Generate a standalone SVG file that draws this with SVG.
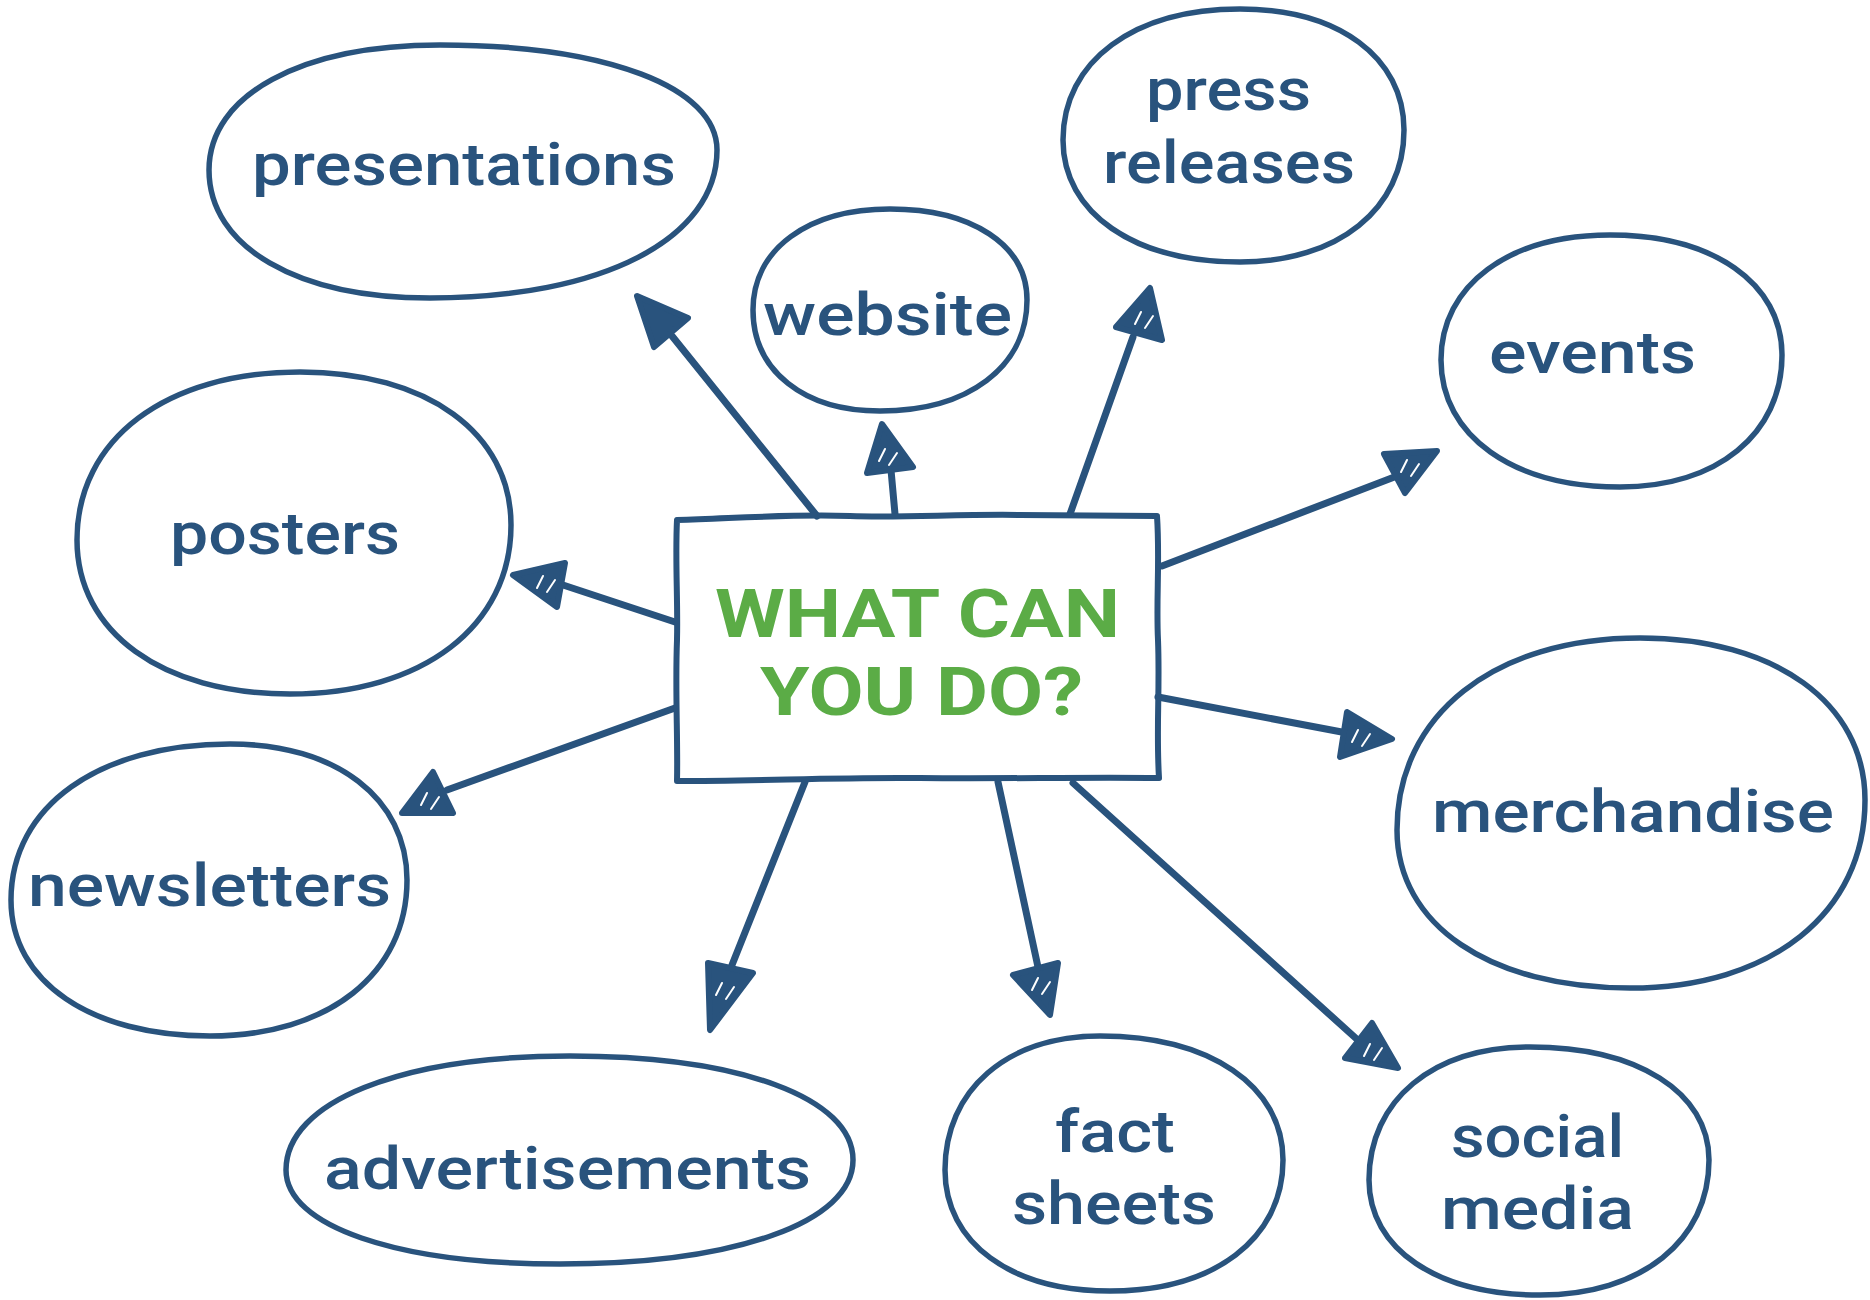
<svg xmlns="http://www.w3.org/2000/svg" width="1870" height="1300" viewBox="0 0 1870 1300">
<style>
.blob{fill:none;stroke:#29537d;stroke-width:5.5;stroke-linejoin:round}
.lbl{font-family:Roboto,"Liberation Sans",sans-serif;font-weight:500;font-size:60px;fill:#29537d}
.title{font-family:Roboto,"Liberation Sans",sans-serif;font-weight:700;font-size:66px;fill:#5bac46}
.box{fill:none;stroke:#29537d;stroke-width:6;stroke-linejoin:round}
.ln{fill:none;stroke:#29537d;stroke-width:7;stroke-linecap:round}
.head{fill:#29537d;stroke:#29537d;stroke-width:6;stroke-linejoin:round}
.hatch{fill:none;stroke:#ffffff;stroke-width:2;stroke-linecap:round}
</style>
<rect width="1870" height="1300" fill="#ffffff"/>
<g id="connectors">
<line class="ln" x1="817" y1="516" x2="672" y2="336"/>
<polygon class="head" points="637,296 688,318 654,347"/>
<line class="ln" x1="895" y1="514" x2="891" y2="470"/>
<polygon class="head" points="882,424 913,467 867,473"/>
<path class="hatch" d="M879,461 L885,449 M889,465 L897,453"/>
<line class="ln" x1="1070" y1="514" x2="1133" y2="337"/>
<polygon class="head" points="1150,288 1162,340 1116,327"/>
<path class="hatch" d="M1135,324 L1141,312 M1145,328 L1153,316"/>
<line class="ln" x1="1162" y1="566" x2="1397" y2="476"/>
<polygon class="head" points="1437,451 1405,493 1384,454"/>
<path class="hatch" d="M1401,472 L1407,460 M1411,476 L1419,464"/>
<line class="ln" x1="1158" y1="697" x2="1347" y2="733"/>
<polygon class="head" points="1392,739 1340,757 1347,712"/>
<path class="hatch" d="M1352,742 L1358,730 M1362,746 L1370,734"/>
<line class="ln" x1="1073" y1="783" x2="1360" y2="1042"/>
<polygon class="head" points="1398,1068 1345,1058 1372,1023"/>
<path class="hatch" d="M1364,1056 L1370,1044 M1374,1060 L1382,1048"/>
<line class="ln" x1="998" y1="782" x2="1038" y2="967"/>
<polygon class="head" points="1050,1015 1013,975 1058,963"/>
<path class="hatch" d="M1032,990 L1038,978 M1042,994 L1050,982"/>
<line class="ln" x1="805" y1="782" x2="732" y2="965"/>
<polygon class="head" points="710,1030 708,963 753,973"/>
<path class="hatch" d="M716,995 L722,983 M726,999 L734,987"/>
<line class="ln" x1="675" y1="708" x2="447" y2="790"/>
<polygon class="head" points="402,813 433,772 453,813"/>
<path class="hatch" d="M421,805 L427,793 M431,809 L439,797"/>
<line class="ln" x1="675" y1="622" x2="563" y2="585"/>
<polygon class="head" points="513,575 565,563 557,607"/>
<path class="hatch" d="M537,588 L543,576 M547,592 L555,580"/>
</g>
<g id="center">
<path class="box" d="M677,520 C740,518 790,514 850,516 C900,518 960,514 1020,515 L1157,516 C1160,560 1156,600 1158,640 C1160,690 1156,730 1159,778 C1080,777 1000,779 920,778 C840,777 760,781 677,781 C678,740 675,690 677,640 C678,600 675,560 677,520 Z"/>
<text class="title" x="715" y="637" textLength="405" lengthAdjust="spacingAndGlyphs">WHAT CAN</text>
<text class="title" x="760" y="715" textLength="323" lengthAdjust="spacingAndGlyphs">YOU DO?</text>
</g>
<g id="presentations">
<path class="blob" d="M440,45 C606,45 717,87 717,150 C717,239 602,298 430,298 C297,298 209,247 209,170 C209,95 301,45 440,45 Z"/>
<text class="lbl" x="252" y="185" textLength="424" lengthAdjust="spacingAndGlyphs">presentations</text>
</g>
<g id="website">
<path class="blob" d="M890,209 C972,209 1027,245 1027,300 C1027,367 968,411 880,411 C804,411 753,371 753,310 C753,249 808,209 890,209 Z"/>
<text class="lbl" x="763" y="335" textLength="249" lengthAdjust="spacingAndGlyphs">website</text>
</g>
<g id="press-releases">
<path class="blob" d="M1240,9 C1338,9 1404,57 1404,130 C1404,209 1338,262 1240,262 C1134,262 1063,213 1063,140 C1063,61 1134,9 1240,9 Z"/>
<text class="lbl" x="1146" y="110" textLength="165" lengthAdjust="spacingAndGlyphs">press</text>
<text class="lbl" x="1103" y="183" textLength="252" lengthAdjust="spacingAndGlyphs">releases</text>
</g>
<g id="events">
<path class="blob" d="M1610,235 C1713,235 1782,283 1782,355 C1782,434 1717,487 1620,487 C1513,487 1441,436 1441,360 C1441,285 1509,235 1610,235 Z"/>
<text class="lbl" x="1489" y="373" textLength="207" lengthAdjust="spacingAndGlyphs">events</text>
</g>
<g id="posters">
<path class="blob" d="M300,372 C427,372 511,433 511,525 C511,626 423,694 290,694 C162,694 77,632 77,540 C77,439 166,372 300,372 Z"/>
<text class="lbl" x="170" y="554" textLength="230" lengthAdjust="spacingAndGlyphs">posters</text>
</g>
<g id="newsletters">
<path class="blob" d="M230,744 C336,744 407,798 407,880 C407,974 328,1036 210,1036 C91,1036 11,982 11,900 C11,806 99,744 230,744 Z"/>
<text class="lbl" x="28" y="906" textLength="363" lengthAdjust="spacingAndGlyphs">newsletters</text>
</g>
<g id="advertisements">
<path class="blob" d="M570,1056 C740,1056 853,1098 853,1160 C853,1222 736,1264 560,1264 C396,1264 286,1226 286,1170 C286,1102 400,1056 570,1056 Z"/>
<text class="lbl" x="324" y="1189" textLength="487" lengthAdjust="spacingAndGlyphs">advertisements</text>
</g>
<g id="fact-sheets">
<path class="blob" d="M1100,1036 C1210,1036 1283,1086 1283,1160 C1283,1239 1214,1291 1110,1291 C1011,1291 945,1243 945,1170 C945,1090 1007,1036 1100,1036 Z"/>
<text class="lbl" x="1055" y="1152" textLength="120" lengthAdjust="spacingAndGlyphs">fact</text>
<text class="lbl" x="1012" y="1224" textLength="204" lengthAdjust="spacingAndGlyphs">sheets</text>
</g>
<g id="social-media">
<path class="blob" d="M1530,1047 C1637,1047 1709,1092 1709,1160 C1709,1241 1641,1295 1540,1295 C1437,1295 1369,1249 1369,1180 C1369,1100 1433,1047 1530,1047 Z"/>
<text class="lbl" x="1451" y="1157" textLength="173" lengthAdjust="spacingAndGlyphs">social</text>
<text class="lbl" x="1441" y="1229" textLength="193" lengthAdjust="spacingAndGlyphs">media</text>
</g>
<g id="merchandise">
<path class="blob" d="M1640,638 C1775,638 1865,703 1865,800 C1865,913 1771,988 1630,988 C1490,988 1397,925 1397,830 C1397,715 1494,638 1640,638 Z"/>
<text class="lbl" x="1432" y="832" textLength="402" lengthAdjust="spacingAndGlyphs">merchandise</text>
</g>
</svg>
